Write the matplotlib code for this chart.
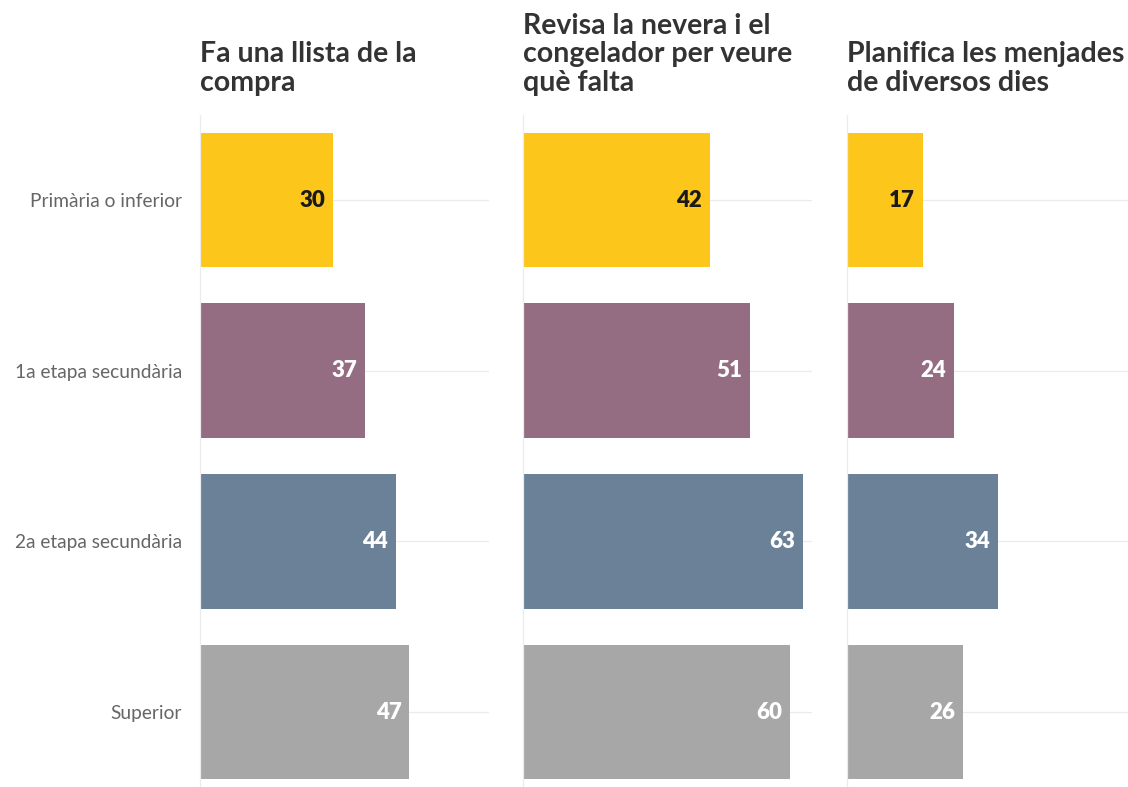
import matplotlib
matplotlib.use('Agg')
import matplotlib.pyplot as plt

plt.rcParams['font.family'] = ['Lato', 'DejaVu Sans']

# data
categories = ['Primària o inferior', '1a etapa secundària', '2a etapa secundària', 'Superior']
titles = ['Fa una llista de la\ncompra',
          'Revisa la nevera i el\ncongelador per veure\nquè falta',
          'Planifica les menjades\nde diversos dies']
llista = [30, 37, 44, 47]
nevera = [42, 51, 63, 60]
menjades = [17, 24, 34, 26]
series = [llista, nevera, menjades]

bar_colors = ['#FDC61B', '#956D83', '#6A8197', '#A7A7A7']
label_colors = ['#1a1a1a', 'white', 'white', 'white']

W, H = 1128, 787
fig = plt.figure(figsize=(W / 100, H / 100), dpi=100)

# panel left edges in px, same scale for all panels
lefts = [200, 523, 847]
panel_w = 289
top_px, ax_h = 114.7, 682.7

for i, (left, vals, title) in enumerate(zip(lefts, series, titles)):
    ax = fig.add_axes([left / W, (H - top_px - ax_h) / H, panel_w / W, ax_h / H])
    ypos = range(len(categories))
    for y in ypos:
        ax.axhline(y, color='#ebebeb', lw=0.9, zorder=0)
    ax.barh(ypos, vals, height=0.79, color=bar_colors, zorder=2)
    for y, v in zip(ypos, vals):
        ax.text(v - 1.7, y, str(v), ha='right', va='center', fontsize=16,
                fontweight='heavy', color=label_colors[y], zorder=3)
    ax.set_xlim(0, 65)
    ax.set_ylim(3.5, -0.5)
    ax.set_xticks([])
    for s in ['top', 'right', 'bottom']:
        ax.spines[s].set_visible(False)
    ax.spines['left'].set_color('#ebebeb')
    ax.spines['left'].set_linewidth(0.9)
    ax.set_yticks(list(ypos))
    if i == 0:
        ax.set_yticklabels(categories, fontsize=13.8, color='#666666')
        ax.tick_params(axis='y', length=0, pad=13)
    else:
        ax.set_yticklabels([])
        ax.tick_params(axis='y', length=0)
    ax.patch.set_alpha(0)
    fig.text(left / W, (H - 96) / H, title, ha='left', va='bottom',
             fontsize=20.5, fontweight='bold', color='#333333', linespacing=1.12)

fig.savefig('out.png', dpi=100, facecolor='white')
